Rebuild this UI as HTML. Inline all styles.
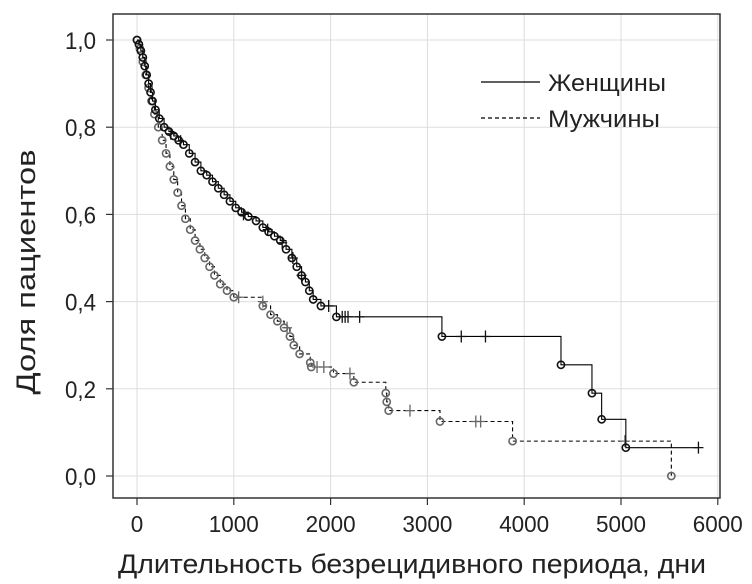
<!DOCTYPE html>
<html><head><meta charset="utf-8"><style>
html,body{margin:0;padding:0;background:#fff;}
svg{display:block;font-family:"Liberation Sans",sans-serif;}
</style></head><body>
<svg id="chart" width="752" height="584" viewBox="0 0 752 584" xmlns="http://www.w3.org/2000/svg">
<rect x="0" y="0" width="752" height="584" fill="#fff"/>
<g id="grid"></g>
<g id="series"></g>
<rect x="113" y="14" width="607" height="484" fill="none" stroke="#333" stroke-width="1.5"/>
<g id="axes"></g>
<g>
  <line x1="481" y1="82" x2="540" y2="82" stroke="#000" stroke-width="1.2"/>
  <text x="548" y="91" font-size="24" textLength="118" lengthAdjust="spacingAndGlyphs" fill="#222">Женщины</text>
  <line x1="481" y1="118" x2="540" y2="118" stroke="#000" stroke-width="1.2" stroke-dasharray="4,3"/>
  <text x="548" y="127" font-size="24" textLength="112" lengthAdjust="spacingAndGlyphs" fill="#222">Мужчины</text>
</g>
<text x="412" y="573" font-size="27" text-anchor="middle" fill="#222" textLength="588" lengthAdjust="spacingAndGlyphs">Длительность безрецидивного периода, дни</text>
<text transform="translate(35,272) rotate(-90)" font-size="27" text-anchor="middle" fill="#222" textLength="245" lengthAdjust="spacingAndGlyphs">Доля пациентов</text>
</svg>
<script>
const xTicks=[0,1000,2000,3000,4000,5000,6000];
const yTicks=[0,0.2,0.4,0.6,0.8,1.0];
const yGrid=[0,0.2,0.4,0.6,0.8,1.0];
const womenEvents=[[0,1],[20,0.99],[40,0.975],[60,0.96],[80,0.94],[100,0.92],[120,0.9],[140,0.88],[160,0.86],[190,0.84],[230,0.82],[280,0.80],[330,0.79],[380,0.78],[430,0.77],[480,0.76],[540,0.74],[600,0.72],[660,0.70],[720,0.69],[780,0.675],[840,0.66],[900,0.645],[960,0.63],[1020,0.615],[1080,0.605],[1150,0.595],[1230,0.585],[1300,0.57],[1360,0.56],[1420,0.55],[1480,0.54],[1540,0.52],[1600,0.5],[1650,0.48],[1700,0.46],[1740,0.445],[1780,0.425],[1820,0.405],[1900,0.39],[2060,0.365],[3150,0.32],[4380,0.255],[4700,0.19],[4800,0.13],[5050,0.065]];
const womenCensored=[[350,0.785],[450,0.768],[1100,0.6],[1350,0.565],[1500,0.535],[1610,0.5],[1700,0.46],[1980,0.39],[2120,0.365],[2150,0.365],[2180,0.365],[2300,0.365],[3350,0.32],[3600,0.32],[5800,0.065]];
const menEvents=[[0,1],[30,0.98],[60,0.95],[90,0.92],[120,0.89],[150,0.86],[180,0.83],[220,0.80],[260,0.77],[300,0.74],[340,0.71],[380,0.68],[420,0.65],[460,0.62],[500,0.59],[550,0.565],[600,0.54],[650,0.52],[700,0.50],[750,0.48],[800,0.46],[860,0.44],[930,0.425],[1000,0.41],[1300,0.39],[1380,0.37],[1450,0.355],[1520,0.34],[1580,0.32],[1620,0.30],[1680,0.28],[1790,0.26],[1800,0.25],[2030,0.235],[2240,0.215],[2570,0.19],[2580,0.17],[2600,0.15],[3130,0.125],[3880,0.08],[5520,0.0]];
const menCensored=[[1050,0.41],[1300,0.4],[1550,0.34],[1860,0.25],[1930,0.25],[2200,0.235],[2820,0.15],[3500,0.125],[3550,0.125],[5040,0.08]];
const womenEnd=5800, menEnd=5520;

const NS="http://www.w3.org/2000/svg";
const X=t=>137+t*0.0968;
const Y=s=>476-s*436;
function mk(tag,attrs,parent){const e=document.createElementNS(NS,tag);for(const k in attrs)e.setAttribute(k,attrs[k]);parent.appendChild(e);return e;}
const grid=document.getElementById('grid'),axes=document.getElementById('axes'),series=document.getElementById('series');
xTicks.forEach(t=>{
  const g=mk('line',{x1:X(t),x2:X(t),y1:14,y2:498,stroke:'#ddd','stroke-width':1},grid);
  
  
  const tk=mk('line',{x1:X(t),x2:X(t),y1:498,y2:505,stroke:'#333','stroke-width':1.2},axes);
  
  
  const s=String(t);
  const tx=mk('text',{x:X(t),y:532,'font-size':23,'text-anchor':'middle',fill:'#222',textLength:s.length*12.5,lengthAdjust:'spacingAndGlyphs'},axes);
  tx.textContent=s;
  
  
});
yGrid.forEach(s=>{
  const g=mk('line',{x1:113,x2:720,y1:Y(s),y2:Y(s),stroke:'#ddd','stroke-width':1},grid);
  
  
});
yTicks.forEach(s=>{
  const tk=mk('line',{x1:106,x2:113,y1:Y(s),y2:Y(s),stroke:'#333','stroke-width':1.2},axes);
  
  
  const tx=mk('text',{x:96,y:Y(s)+9,'font-size':24,'text-anchor':'end',fill:'#222',textLength:31,lengthAdjust:'spacingAndGlyphs'},axes);
  tx.textContent=s.toFixed(1).replace('.',',');
  
  
});
function drawSeries(events,cens,end,color,dash,name){
  let d='M'+X(events[0][0])+','+Y(events[0][1]);
  for(let i=1;i<events.length;i++){d+=' H'+X(events[i][0])+' V'+Y(events[i][1]);}
  d+=' H'+X(end);
  const p=mk('path',{d:d,fill:'none',stroke:'#000','stroke-width':1.1},series);
  if(dash)p.setAttribute('stroke-dasharray','4,3');
  
  
  events.forEach(e=>{
    const c=mk('circle',{cx:X(e[0]),cy:Y(e[1]),r:3.6,fill:'none',stroke:color,'stroke-width':1.6},series);
    
    
  });
  cens.forEach(e=>{
    const x=X(e[0]),y=Y(e[1]);
    const c=mk('path',{d:`M${x-5},${y} H${x+5} M${x},${y-6} V${y+6}`,stroke:color,'stroke-width':1.3},series);
    
    
  });
}
drawSeries(menEvents,menCensored,menEnd,'#666',true,'men');
drawSeries(womenEvents,womenCensored,womenEnd,'#111',false,'women');
</script>
</body></html>
